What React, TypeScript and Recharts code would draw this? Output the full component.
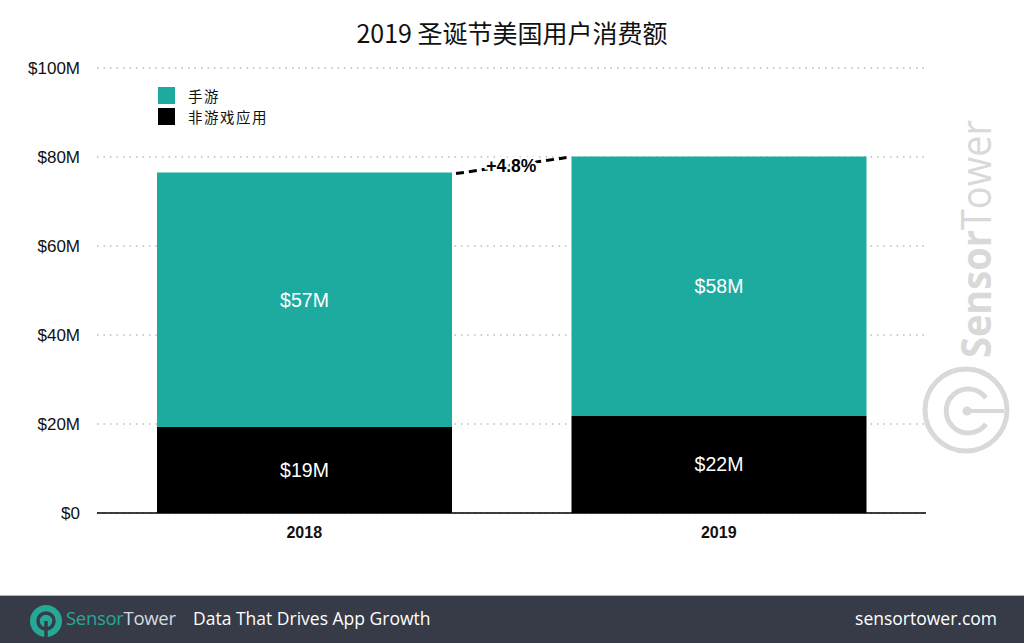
import { BarChart, Bar, XAxis, YAxis, CartesianGrid, LabelList } from "recharts"

const years = ["2018", "2019"]
const nonGameApps = [19.3, 21.8]
const mobileGames = [57.2, 58.3]
const yTicks = [0, 20, 40, 60, 80, 100]
const seriesNames = ["手游", "非游戏应用"]
const growthLabel = "+4.8%"
const title = "2019 圣诞节美国用户消费额"

const TEAL = "#1eab9f"
const data = years.map((year, i) => ({ year, apps: nonGameApps[i], games: mobileGames[i] }))

const sans = "'Liberation Sans', Arial, sans-serif"
const cjk = "'Noto Sans CJK SC', sans-serif"

const money = (v: number) => (v === 0 ? "$0" : `$${Math.round(v)}M`)

// remember where the first stack ends so the second label can draw the growth line
let firstTop: { x: number; y: number } | null = null

function GrowthMarker(props: any) {
  const x = Number(props.x)
  const y = Number(props.y)
  const w = Number(props.width)
  if (props.index === 0) {
    firstTop = { x: x + w, y }
    return null
  }
  if (!firstTop) return null
  const x1 = firstTop.x + 4
  const y1 = firstTop.y + 1
  const x2 = x - 5
  const y2 = y + 1
  return (
    <g>
      <line x1={x1} y1={y1} x2={x2} y2={y2} stroke="#000" strokeWidth={3} strokeDasharray="8 5" />
      <text
        x={(x1 + x2) / 2}
        y={(y1 + y2) / 2}
        textAnchor="middle"
        dominantBaseline="central"
        fontFamily={sans}
        fontWeight="bold"
        fontSize={17.5}
        fill="#000"
        stroke="#fff"
        strokeWidth={5}
        paintOrder="stroke"
      >
        {growthLabel}
      </text>
    </g>
  )
}

function Watermark() {
  const c = "#d9d9d9"
  return (
    <svg width={1024} height={595} style={{ position: "absolute", left: 0, top: 0, pointerEvents: "none" }}>
      <text
        transform="translate(991, 358) rotate(-90)"
        fontFamily="'Open Sans', sans-serif"
        fontSize={42}
        fill={c}
        textLength={238}
        lengthAdjust="spacingAndGlyphs"
      >
        <tspan fontWeight="bold">Sensor</tspan>
        <tspan>Tower</tspan>
      </text>
      <circle cx={966} cy={410} r={41} fill="none" stroke={c} strokeWidth={5} />
      <path d="M 986 398 A 22 22 0 1 0 986 424" fill="none" stroke={c} strokeWidth={5} />
      <line x1={967} y1={411} x2={1004} y2={411} stroke={c} strokeWidth={4} />
      <circle cx={967} cy={411} r={4.5} fill={c} />
    </svg>
  )
}

function Footer() {
  return (
    <div
      style={{
        position: "absolute",
        left: 0,
        top: 595,
        width: 1024,
        height: 48,
        background: "#363b47",
        borderTop: "1px solid #b5b5b5",
        boxSizing: "border-box",
        fontFamily: "'Open Sans', sans-serif",
        color: "#fff",
      }}
    >
      <svg width={40} height={40} style={{ position: "absolute", left: 28, top: 6 }}>
        <circle cx={18} cy={19} r={16} fill="#26a898" />
        <circle cx={18} cy={19} r={8} fill="none" stroke="#363b47" strokeWidth={3.5} />
        <line x1={18} y1={19} x2={18} y2={36} stroke="#363b47" strokeWidth={3.5} />
      </svg>
      <div style={{ position: "absolute", left: 66, top: 9, fontSize: 18.5, letterSpacing: -0.3 }}>
        <span style={{ color: "#27a898" }}>Sensor</span>
        <span style={{ color: "#d3dbe0" }}>Tower</span>
      </div>
      <div style={{ position: "absolute", left: 193, top: 10, fontSize: 17.5 }}>Data That Drives App Growth</div>
      <div style={{ position: "absolute", right: 27, top: 10, fontSize: 17.5 }}>sensortower.com</div>
    </div>
  )
}

export default function App() {
  firstTop = null
  return (
    <div style={{ position: "absolute", left: 0, top: 0, width: 1024, height: 643, background: "#fff", overflow: "hidden" }}>
      <div
        style={{
          position: "absolute",
          left: 0,
          top: 14,
          width: 1024,
          textAlign: "center",
          fontFamily: cjk,
          fontSize: 25,
          color: "#111",
        }}
      >
        {title}
      </div>

      <div style={{ position: "absolute", left: 158, top: 85, fontFamily: cjk, fontSize: 14.5, letterSpacing: 1.5, color: "#111" }}>
        {[TEAL, "#000"].map((c, i) => (
          <div key={i} style={{ display: "flex", alignItems: "center", height: 21 }}>
            <div style={{ width: 17, height: 17, background: c, marginRight: 13 }} />
            <div style={{ lineHeight: "21px" }}>{seriesNames[i]}</div>
          </div>
        ))}
      </div>

      <Watermark />

      <div style={{ position: "absolute", left: 0, top: 0 }}>
        <BarChart width={1024} height={595} data={data} margin={{ top: 68, right: 98, bottom: 42, left: 0 }} barCategoryGap={60}>
          <CartesianGrid vertical={false} stroke="#bdbdbd" strokeWidth={1.5} strokeDasharray="1.5 5" />
          <XAxis
            dataKey="year"
            axisLine={{ stroke: "#000", strokeWidth: 1.5 }}
            tickLine={false}
            tickMargin={8}
            height={40}
            tick={{ fontFamily: sans, fontSize: 16, fontWeight: "bold", fill: "#111" }}
          />
          <YAxis
            domain={[0, 100]}
            ticks={yTicks}
            tickFormatter={money}
            axisLine={false}
            tickLine={false}
            tickMargin={11}
            width={97}
            tick={{ fontFamily: sans, fontSize: 17, fill: "#111" }}
          />
          <Bar dataKey="apps" stackId="a" fill="#000" isAnimationActive={false}>
            <LabelList dataKey="apps" position="center" formatter={(v: any) => money(Number(v))} fill="#fff" fontFamily={sans} fontSize={19.5} />
          </Bar>
          <Bar dataKey="games" stackId="a" fill={TEAL} isAnimationActive={false}>
            <LabelList dataKey="games" position="center" formatter={(v: any) => money(Number(v))} fill="#fff" fontFamily={sans} fontSize={19.5} />
            <LabelList dataKey="games" content={GrowthMarker} />
          </Bar>
        </BarChart>
      </div>

      <Footer />
    </div>
  )
}
